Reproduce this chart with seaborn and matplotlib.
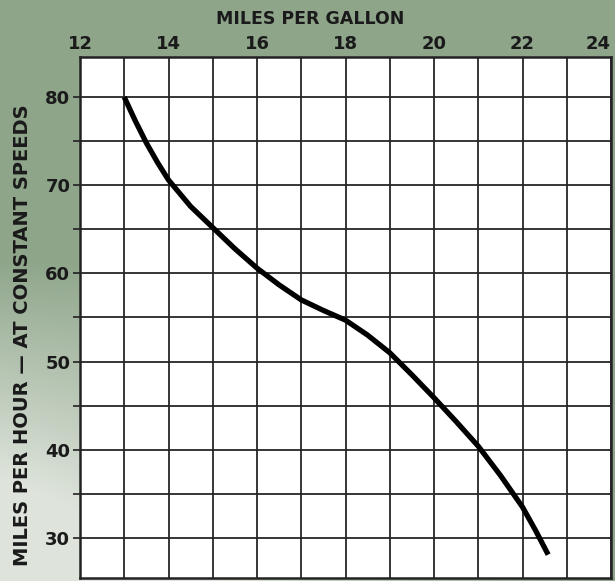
import numpy as np
import pandas as pd
import matplotlib
matplotlib.use("Agg")
import matplotlib.pyplot as plt
import seaborn as sns

# readings: speed (mph) vs fuel economy (mpg)
mpg = [13.0, 13.25, 13.5, 13.75, 14.0, 14.5, 15.0, 15.5, 16.0, 16.5, 17.0,
       17.5, 18.0, 18.5, 19.0, 19.5, 20.0, 20.5, 21.0, 21.5, 22.0, 22.3, 22.58]
mph = [80.0, 77.3, 74.8, 72.6, 70.6, 67.6, 65.2, 62.8, 60.6, 58.7, 57.0,
       55.8, 54.7, 53.0, 51.0, 48.5, 45.9, 43.2, 40.4, 37.1, 33.5, 30.8, 28.1]
x_ticks = [12, 14, 16, 18, 20, 22, 24]
y_ticks = [30, 40, 50, 60, 70, 80]

df = pd.DataFrame({"mpg": mpg, "mph": mph})

sns.set_style("white")
plt.rcParams["font.family"] = ["DejaVu Sans"]

bg = "#8fa68b"
fig = plt.figure(figsize=(6.15, 5.81), dpi=100, facecolor=bg)

# paper backdrop: green at the top, fading lighter toward the bottom left
bgax = fig.add_axes([0, 0, 1, 1], zorder=-5)
gy, gx = np.mgrid[0:1:200j, 0:1:200j]
fade = np.clip((gy - 0.45) * 1.6 * (1 - gx) * 1.4, 0, 0.85)
green = np.array([0.56, 0.65, 0.545])
img = green[None, None, :] * (1 - fade[..., None]) + np.array([0.93, 0.94, 0.92])[None, None, :] * fade[..., None]
bgax.imshow(img, aspect="auto", extent=[0, 1, 0, 1], origin="upper")
bgax.axis("off")

ax = fig.add_axes([80 / 615, 3 / 581, 531 / 615, 521 / 581])
ax.set_facecolor("white")

sns.lineplot(data=df, x="mpg", y="mph", ax=ax, color="black", linewidth=3.8,
             sort=False, solid_capstyle="butt", solid_joinstyle="round")

ax.set_xlim(12, 24)
ax.set_ylim(25.45, 84.55)
ax.set_xticks(np.arange(12, 25, 1))
ax.set_yticks(np.arange(30, 85, 5))
ax.grid(True, color="#262626", linewidth=1.3)
ax.set_axisbelow(True)
for s in ax.spines.values():
    s.set_color("#222222")
    s.set_linewidth(1.8)

ax.xaxis.tick_top()
ax.set_xticklabels([str(v) if v in x_ticks else "" for v in range(12, 25)],
                   fontsize=13, fontweight="bold", color="#1a1a1a")
ax.set_yticklabels([str(v) if v in y_ticks else "" for v in range(30, 85, 5)],
                   fontsize=13, fontweight="bold", color="#1a1a1a")
ax.get_xticklabels()[-1].set_horizontalalignment("right")
ax.tick_params(axis="x", length=0, pad=3)
ax.tick_params(axis="y", length=5, width=1.2, color="#222222", pad=2, left=True)
ax.set_xlabel("")
ax.set_ylabel("")

fig.text(0.505, 0.968, "MILES PER GALLON", ha="center", va="center",
         fontsize=12.5, fontweight="bold", color="#1a1a1a")
fig.text(0.036, 0.423, "MILES PER HOUR \u2014 AT CONSTANT SPEEDS", ha="center",
         va="center", rotation=90, fontsize=14, fontweight="bold", color="#1a1a1a")

fig.savefig("out.png", dpi=100, facecolor=bg)
